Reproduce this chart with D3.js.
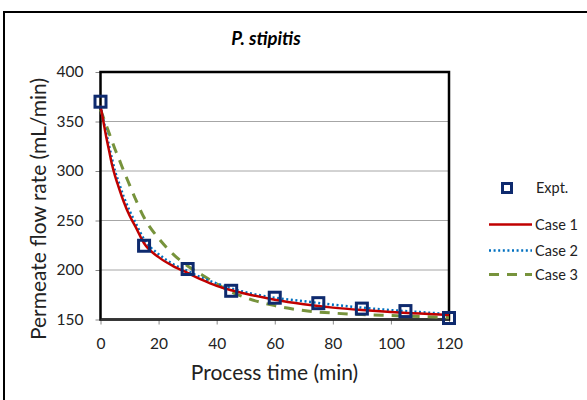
<!DOCTYPE html>
<html><head><meta charset="utf-8">
<script src="https://cdn.jsdelivr.net/npm/d3@7/dist/d3.min.js"></script>
<style>body{margin:0;background:#fff}svg{display:block}</style>
</head><body>
<script>
const title = "P. stipitis";
const xTitle = "Process time (min)";
const yTitle = "Permeate flow rate (mL/min)";
const xTicks = [0, 20, 40, 60, 80, 100, 120];
const yTicks = [150, 200, 250, 300, 350, 400];
const exptTime = [0, 15, 30, 45, 60, 75, 90, 105, 120];
const exptFlow = [370, 224.5, 201, 179, 172, 166.5, 161, 158.5, 151.5];
const modelTime = [0, 1, 2, 3, 4, 5, 6, 8, 10, 12, 15, 20, 25, 30, 35, 40, 45, 50, 60, 70, 80, 90, 100, 110, 120];
const case1 = [366, 350, 334, 320, 306, 295, 286, 269, 255, 244, 227, 213, 204, 197, 190, 184, 179.5, 176, 170, 165.5, 162, 159.5, 157.5, 156, 154.5];
const case2 = [366, 352, 338, 325, 312, 300, 291, 274, 260, 248, 231, 216, 206, 199, 192, 186.5, 181.5, 177.5, 172, 168.5, 165, 162, 159.5, 157.5, 155.5];
const case3 = [362, 354, 346, 338, 330, 322, 315, 300, 286, 272, 253, 232, 216, 204, 195, 186, 178, 172, 164, 159, 156.5, 155, 154, 153, 152];
const seriesNames = ["Expt.", "Case 1", "Case 2", "Case 3"];

const W = 587, H = 400;
const svg = d3.select("body").append("svg").attr("width", W).attr("height", H);
const font = "Lato, 'Open Sans', sans-serif";

// outer frame
svg.append("rect").attr("x", 4).attr("y", 12).attr("width", 620).attr("height", 420)
  .attr("fill", "none").attr("stroke", "#000").attr("stroke-width", 2);

const L = 100.5, R = 449, T = 72, B = 319.5;
const x = d3.scaleLinear().domain([0, 120]).range([L, R]);
const y = d3.scaleLinear().domain([150, 400]).range([B, T]);

// gridlines
svg.append("g").selectAll("line").data(yTicks.slice(1, -1)).join("line")
  .attr("x1", L).attr("x2", R).attr("y1", d => y(d)).attr("y2", d => y(d))
  .attr("stroke", "#a6a6a6").attr("stroke-width", 1);

// axes
const yAxis = svg.append("g").attr("transform", `translate(${L},0)`)
  .call(d3.axisLeft(y).tickValues(yTicks).tickSize(5).tickPadding(12));
const xAxis = svg.append("g").attr("transform", `translate(0,${B})`)
  .call(d3.axisBottom(x).tickValues(xTicks).tickSize(5).tickPadding(13));
[yAxis, xAxis].forEach(a => {
  a.select(".domain").remove();
  a.selectAll("line").attr("stroke", "#888");
  a.selectAll("text").attr("font-family", font).attr("font-size", 15.5).attr("fill", "#222");
});

// plot border
svg.append("rect").attr("x", L).attr("y", T).attr("width", R - L).attr("height", B - T)
  .attr("fill", "none").attr("stroke", "#000").attr("stroke-width", 2.5);
svg.append("line").attr("x1", L).attr("x2", R).attr("y1", B).attr("y2", B)
  .attr("stroke", "#333").attr("stroke-width", 2);

const styles = [
  { data: case1, color: "#c00000", dash: null, width: 2.5 },
  { data: case2, color: "#0070c0", dash: "2,2.6", width: 2.5 },
  { data: case3, color: "#77933c", dash: "10,8", width: 3 }
];
const line = d3.line().x(d => x(d[0])).y(d => y(d[1])).curve(d3.curveMonotoneX);
styles.slice().reverse().forEach(s => {
  svg.append("path").datum(modelTime.map((t, i) => [t, s.data[i]]))
    .attr("d", line).attr("fill", "none").attr("stroke", s.color)
    .attr("stroke-width", s.width).attr("stroke-dasharray", s.dash);
});

// markers
const ms = 11;
svg.append("g").selectAll("rect").data(exptTime.map((t, i) => [t, exptFlow[i]])).join("rect")
  .attr("x", d => x(d[0]) - ms / 2).attr("y", d => y(d[1]) - ms / 2)
  .attr("width", ms).attr("height", ms)
  .attr("fill", "none").attr("stroke", "#0e2a6e").attr("stroke-width", 3);

// titles
svg.append("text").attr("x", 266).attr("y", 45).attr("text-anchor", "middle")
  .attr("font-family", font).attr("font-size", 18.5).attr("font-weight", "bold").attr("font-style", "italic")
  .attr("fill", "#000").text(title);
svg.append("text").attr("x", 274.5).attr("y", 380).attr("text-anchor", "middle")
  .attr("font-family", font).attr("font-size", 21).attr("fill", "#222").text(xTitle);
svg.append("text").attr("transform", "translate(46,209) rotate(-90)").attr("text-anchor", "middle")
  .attr("font-family", font).attr("font-size", 21).attr("fill", "#222").text(yTitle);

// legend
const lg = svg.append("g").attr("font-family", font).attr("font-size", 14.5).attr("fill", "#222");
const ly = [188, 224.5, 250.5, 274.5];
seriesNames.forEach((n, i) => {
  if (i === 0) {
    lg.append("rect").attr("x", 507 - 4.5).attr("y", ly[i] - 4.5).attr("width", 9).attr("height", 9)
      .attr("fill", "none").attr("stroke", "#0e2a6e").attr("stroke-width", 3);
  } else {
    const s = styles[i - 1];
    lg.append("line").attr("x1", 489).attr("x2", 532).attr("y1", ly[i]).attr("y2", ly[i])
      .attr("stroke", s.color).attr("stroke-width", s.width).attr("stroke-dasharray", s.dash);
  }
  lg.append("text").attr("x", i === 0 ? 536 : 535).attr("y", ly[i]).attr("dy", "0.35em").text(n);
});
</script>
</body></html>
